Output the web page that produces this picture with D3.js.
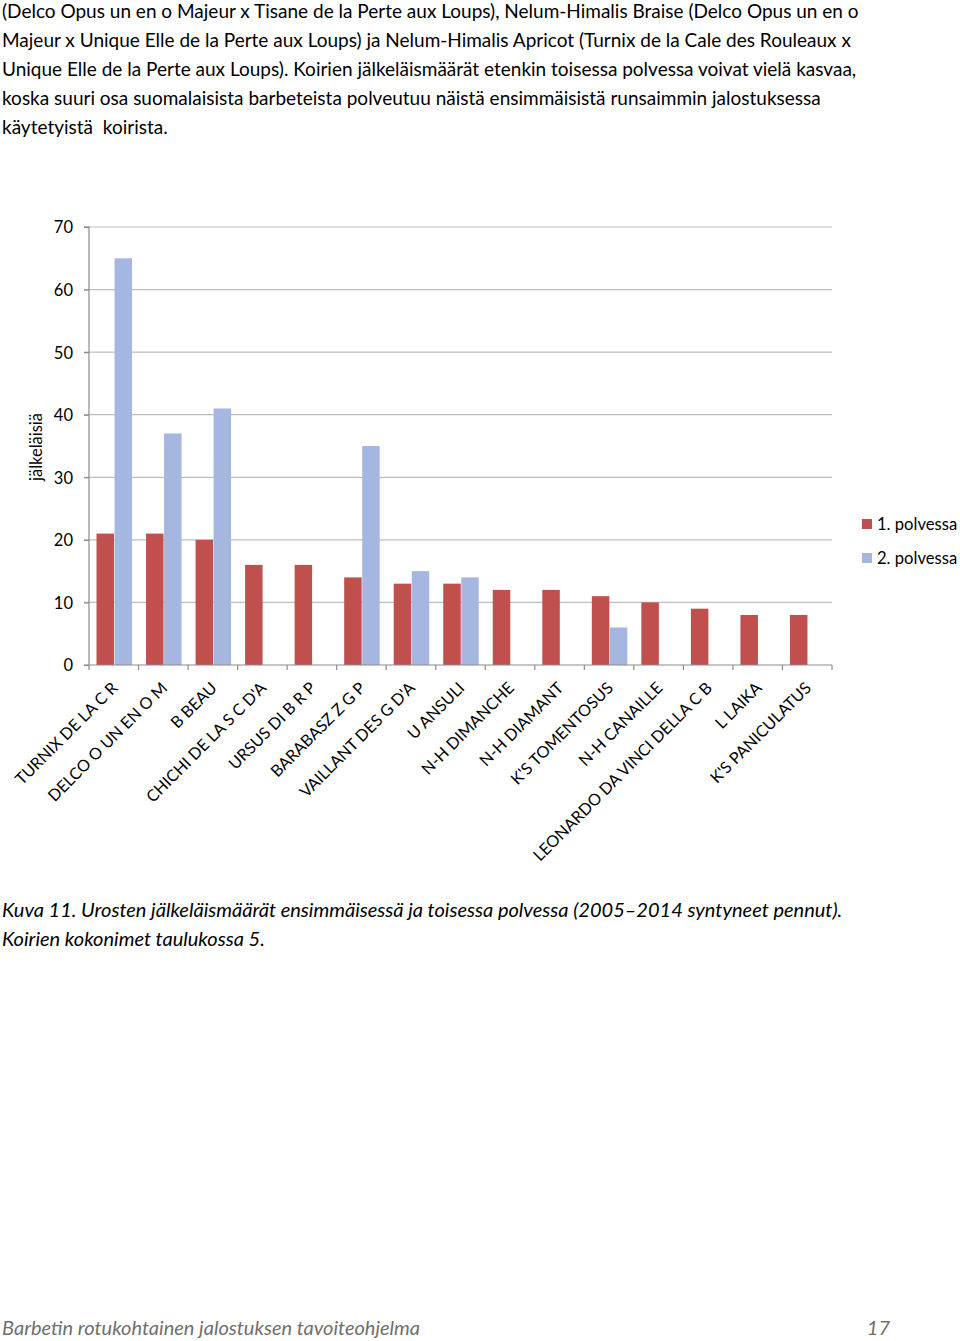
<!DOCTYPE html>
<html><head><meta charset="utf-8">
<script src="https://cdn.jsdelivr.net/npm/d3@7"></script>
<style>
body{margin:0;background:#fff;}
svg{display:block;}
</style></head>
<body>
<svg id="c" width="960" height="1341"></svg>
<script>
const categories = ["TURNIX DE LA C R","DELCO O UN EN O M","B BEAU","CHICHI DE LA S C D'A","URSUS DI B R P","BARABASZ Z G P","VAILLANT DES G D'A","U ANSULI","N-H DIMANCHE","N-H DIAMANT","K'S TOMENTOSUS","N-H CANAILLE","LEONARDO DA VINCI DELLA C B","L LAIKA","K'S PANICULATUS"];
const gen1 = [21,21,20,16,16,14,13,13,12,12,11,10,9,8,8];
const gen2 = [65,37,41,null,null,35,15,14,null,null,6,null,null,null,null];
const seriesNames = ["1. polvessa","2. polvessa"];
const yTicks = [0,10,20,30,40,50,60,70];
const paragraph = [
 "(Delco Opus un en o Majeur x Tisane de la Perte aux Loups), Nelum-Himalis Braise (Delco Opus un en o",
 "Majeur x Unique Elle de la Perte aux Loups) ja Nelum-Himalis Apricot (Turnix de la Cale des Rouleaux x",
 "Unique Elle de la Perte aux Loups). Koirien jälkeläismäärät etenkin toisessa polvessa voivat vielä kasvaa,",
 "koska suuri osa suomalaisista barbeteista polveutuu näistä ensimmäisistä runsaimmin jalostuksessa",
 "käytetyistä  koirista."
];
const caption = ["Kuva 11. Urosten jälkeläismäärät ensimmäisessä ja toisessa polvessa (2005–2014 syntyneet pennut).","Koirien kokonimet taulukossa 5."];
const footer = "Barbetin rotukohtainen jalostuksen tavoiteohjelma";
const pageNo = "17";
const colors = ["#C0504D","#A5B7E1"];

(function(){
const svg = d3.select("#c");
const font = "Lato, 'Open Sans', sans-serif";

// paragraph
svg.append("g").selectAll("text").data(paragraph).join("text")
  .attr("x",2).attr("y",(d,i)=>18+i*29)
  .attr("font-family",font).attr("font-size",19).attr("fill","#000")
  .style("white-space","pre")
  .text(d=>d);

const pL=89, pR=832, pT=227, pB=665;
const x0 = d3.scaleBand().domain(categories).range([pL,pR]);
const x1 = d3.scaleBand().domain([0,1]).range([7.5,x0.bandwidth()-6.5]).paddingInner(0.03);
const y = d3.scaleLinear().domain([0,70]).range([pB,pT]);

const g = svg.append("g");
// gridlines
g.append("g").selectAll("line").data(yTicks.filter(t=>t>0)).join("line")
  .attr("x1",pL-5).attr("x2",pR).attr("y1",d=>y(d)).attr("y2",d=>y(d))
  .attr("stroke","#BEBEBE").attr("stroke-width",1.2);
// y axis
const yAxis = d3.axisLeft(y).tickValues(yTicks).tickSize(5).tickPadding(11);
const ya = g.append("g").attr("transform",`translate(${pL},0)`).call(yAxis);
ya.select(".domain").attr("stroke","#8C8C8C").attr("stroke-width",1.2).attr("d",`M-5,${pT}H0V${pB}`);
ya.selectAll(".tick line").attr("stroke","#8C8C8C").attr("stroke-width",1.2);
ya.selectAll(".tick text").attr("font-family",font).attr("font-size",16.5).attr("fill","#000").attr("dy","0.36em");

// bars
const data = categories.map((c,i)=>({c, v:[gen1[i],gen2[i]]}));
const cg = g.append("g").selectAll("g").data(data).join("g").attr("transform",d=>`translate(${x0(d.c)},0)`);
cg.selectAll("rect").data(d=>d.v.map((v,k)=>({v,k})).filter(e=>e.v!=null)).join("rect")
  .attr("x",e=>x1(e.k)).attr("width",x1.bandwidth())
  .attr("y",e=>y(e.v)).attr("height",e=>y(0)-y(e.v))
  .attr("fill",e=>colors[e.k]);

// x axis
const xa = g.append("g").attr("transform",`translate(0,${pB})`);
xa.append("line").attr("x1",pL-5).attr("x2",pR).attr("stroke","#8C8C8C").attr("stroke-width",1.2);
const bounds = categories.map(c=>x0(c)).concat([pR]);
xa.selectAll("line.tk").data(bounds).join("line").attr("class","tk")
  .attr("x1",d=>d).attr("x2",d=>d).attr("y1",0).attr("y2",5)
  .attr("stroke","#8C8C8C").attr("stroke-width",1.2);
xa.selectAll("text").data(categories).join("text")
  .attr("transform",d=>`translate(${x0(d)+x0.bandwidth()/2+5},${24}) rotate(-45)`)
  .attr("text-anchor","end")
  .attr("font-family",font).attr("font-size",16.2).attr("fill","#000")
  .text(d=>d);

// y title
svg.append("text").attr("transform","translate(42,447) rotate(-90)")
  .attr("text-anchor","middle").attr("font-family",font).attr("font-size",16.5).attr("fill","#000")
  .text("jälkeläisiä");

// legend
const lg = svg.append("g").selectAll("g").data(seriesNames).join("g")
  .attr("transform",(d,i)=>`translate(862,${519+i*34})`);
lg.append("rect").attr("width",10).attr("height",10).attr("fill",(d,i)=>colors[i]);
lg.append("text").attr("x",15).attr("y",10.5).attr("font-family",font).attr("font-size",16.6).attr("fill","#000").text(d=>d);

// caption
svg.append("g").selectAll("text").data(caption).join("text")
  .attr("x",2).attr("y",(d,i)=>917+i*29)
  .attr("font-family",font).attr("font-style","italic").attr("font-size",20).attr("fill","#000")
  .text(d=>d);

// footer
svg.append("text").attr("x",2).attr("y",1335).attr("font-family",font).attr("font-style","italic")
  .attr("font-size",20).attr("fill","#6F6F6F").text(footer);
svg.append("text").attr("x",890).attr("y",1335).attr("text-anchor","end").attr("font-family",font).attr("font-style","italic")
  .attr("font-size",20).attr("fill","#6F6F6F").text(pageNo);
})();
</script>
</body></html>
